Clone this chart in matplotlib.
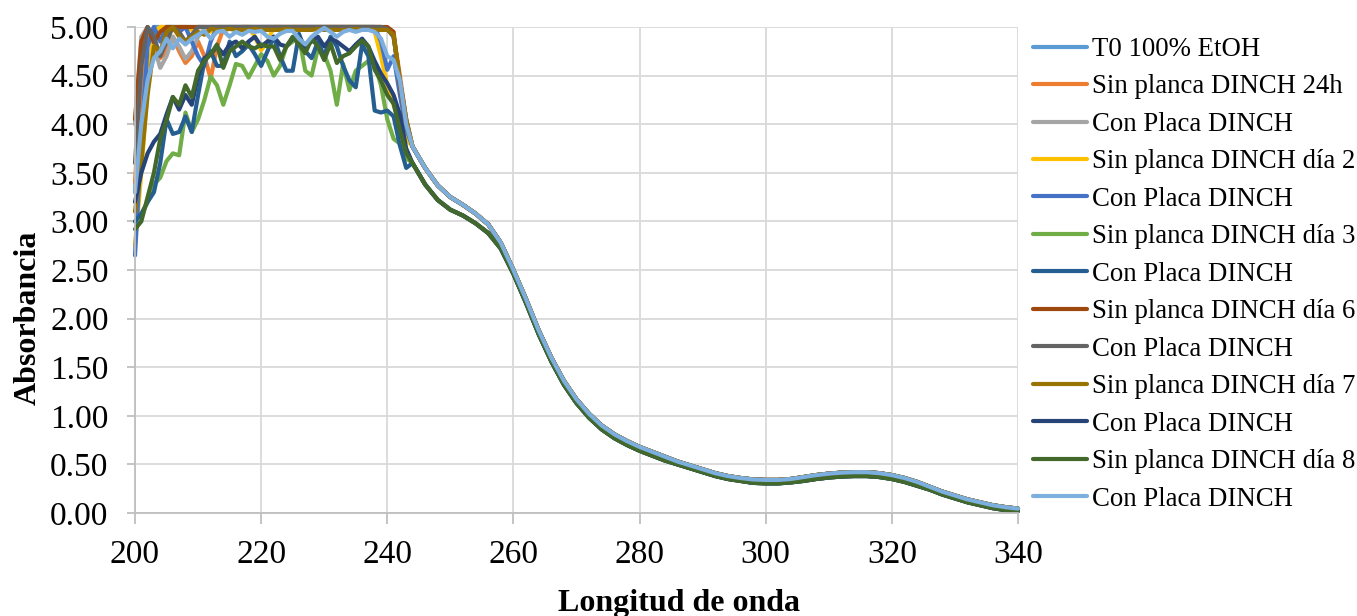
import matplotlib
matplotlib.use("Agg")
import matplotlib.pyplot as plt
from matplotlib.ticker import FormatStrFormatter

plt.rcParams['font.family'] = ['Liberation Serif', 'DejaVu Serif']

# wavelengths: 1 nm steps in the saturated region, 2 nm steps in the tail
wl_head = list(range(200, 244))
wl_tail = list(range(244, 341, 2))

# shared tail (244-340 nm), upper and lower group of curves
tail_high = [3.77, 3.55, 3.37, 3.25, 3.17, 3.08, 2.97, 2.78, 2.50, 2.20,
             1.88, 1.60, 1.36, 1.17, 1.02, 0.90, 0.81, 0.74, 0.68, 0.63,
             0.58, 0.53, 0.49, 0.45, 0.41, 0.38, 0.36, 0.345, 0.34, 0.34,
             0.35, 0.37, 0.39, 0.405, 0.415, 0.42, 0.42, 0.41, 0.39, 0.36,
             0.32, 0.27, 0.22, 0.18, 0.14, 0.11, 0.08, 0.06, 0.045]
tail_low = [3.60, 3.38, 3.22, 3.12, 3.06, 2.98, 2.88, 2.72, 2.46, 2.16,
            1.84, 1.56, 1.32, 1.13, 0.98, 0.86, 0.77, 0.70, 0.64, 0.59,
            0.54, 0.50, 0.46, 0.42, 0.38, 0.35, 0.33, 0.31, 0.305, 0.305,
            0.315, 0.33, 0.35, 0.365, 0.375, 0.38, 0.38, 0.37, 0.35, 0.32,
            0.28, 0.24, 0.19, 0.15, 0.11, 0.08, 0.05, 0.03, 0.02]

# 200-243 nm for each series
t0_head = [3.30, 4.30, 4.90, 5.00, 5.00, 5.00, 5.00, 5.00, 5.00, 5.00, 5.00,
           5.00, 5.00, 5.00, 5.00, 5.00, 5.00, 5.00, 5.00, 5.00, 5.00, 5.00,
           5.00, 5.00, 5.00, 5.00, 5.00, 5.00, 5.00, 5.00, 5.00, 5.00, 5.00,
           5.00, 5.00, 5.00, 5.00, 5.00, 5.00, 5.00, 4.99, 4.90, 4.45, 4.00]
sin24_head = [3.40, 4.50, 4.95, 4.85, 4.68, 4.75, 4.90, 4.75, 4.63, 4.70, 4.85,
              4.70, 4.47, 4.80, 4.98, 5.00, 4.97, 5.00, 5.00, 4.98, 5.00, 5.00,
              5.00, 5.00, 4.98, 5.00, 5.00, 5.00, 5.00, 5.00, 5.00, 5.00, 5.00,
              5.00, 5.00, 5.00, 5.00, 5.00, 5.00, 5.00, 4.98, 4.92, 4.50, 4.05]
con24_head = [4.00, 4.90, 5.00, 4.80, 4.58, 4.70, 4.90, 4.80, 4.67, 4.75, 4.90,
              4.97, 5.00, 5.00, 4.98, 5.00, 5.00, 5.00, 5.00, 5.00, 5.00, 5.00,
              5.00, 5.00, 5.00, 5.00, 5.00, 5.00, 5.00, 5.00, 5.00, 5.00, 5.00,
              5.00, 5.00, 5.00, 5.00, 5.00, 5.00, 5.00, 4.98, 4.90, 4.45, 4.02]
sin2_head = [2.75, 3.50, 4.40, 4.95, 5.00, 5.00, 4.97, 5.00, 5.00, 4.97, 5.00,
             5.00, 4.95, 5.00, 5.00, 5.00, 4.97, 5.00, 5.00, 4.90, 4.76, 4.85,
             5.00, 5.00, 5.00, 5.00, 5.00, 5.00, 4.97, 5.00, 5.00, 5.00, 5.00,
             5.00, 5.00, 5.00, 5.00, 5.00, 4.95, 4.70, 4.40, 4.20, 4.00, 3.85]
con2_head = [2.65, 3.80, 4.80, 5.00, 4.85, 5.00, 5.00, 4.95, 5.00, 4.85, 4.70,
             4.60, 4.85, 5.00, 5.00, 5.00, 5.00, 5.00, 5.00, 5.00, 5.00, 5.00,
             5.00, 5.00, 5.00, 5.00, 5.00, 5.00, 5.00, 5.00, 5.00, 5.00, 5.00,
             5.00, 5.00, 5.00, 5.00, 5.00, 5.00, 4.85, 4.56, 4.70, 4.30, 3.95]
sin3_head = [3.00, 3.06, 3.20, 3.38, 3.45, 3.62, 3.70, 3.68, 4.12, 3.92, 4.05,
             4.25, 4.49, 4.40, 4.20, 4.40, 4.62, 4.60, 4.48, 4.60, 4.72, 4.65,
             4.50, 4.60, 4.80, 4.85, 4.90, 4.55, 4.50, 4.78, 4.72, 4.55, 4.20,
             4.62, 4.35, 4.55, 4.60, 4.65, 4.62, 4.40, 4.05, 3.85, 3.80, 3.65]
con3_head = [3.00, 3.08, 3.20, 3.30, 3.60, 4.05, 3.90, 3.92, 4.08, 3.92, 4.30,
             4.65, 4.75, 4.60, 4.60, 4.85, 4.70, 4.75, 4.82, 4.72, 4.60, 4.75,
             4.90, 4.70, 4.55, 4.55, 4.93, 4.75, 4.68, 4.85, 4.70, 4.90, 4.80,
             4.60, 4.45, 4.38, 4.82, 4.70, 4.14, 4.12, 4.14, 4.08, 3.78, 3.55]
sin6_head = [4.05, 4.85, 5.00, 4.84, 4.95, 5.00, 5.00, 5.00, 5.00, 5.00, 5.00,
             5.00, 5.00, 5.00, 5.00, 5.00, 5.00, 5.00, 5.00, 5.00, 5.00, 5.00,
             5.00, 5.00, 5.00, 5.00, 5.00, 5.00, 5.00, 5.00, 5.00, 5.00, 5.00,
             5.00, 5.00, 5.00, 5.00, 5.00, 5.00, 5.00, 5.00, 4.95, 4.40, 4.00]
con6_head = [3.60, 4.60, 5.00, 4.90, 4.70, 4.85, 5.00, 4.95, 4.85, 4.92, 5.00,
             5.00, 5.00, 5.00, 5.00, 5.00, 5.00, 5.00, 5.00, 5.00, 5.00, 5.00,
             5.00, 5.00, 5.00, 5.00, 5.00, 5.00, 5.00, 5.00, 5.00, 5.00, 5.00,
             5.00, 5.00, 5.00, 5.00, 5.00, 5.00, 5.00, 4.98, 4.90, 4.45, 4.05]
sin7_head = [3.10, 3.60, 4.30, 4.80, 4.75, 4.95, 5.00, 4.90, 4.85, 4.90, 4.95,
             4.92, 4.98, 4.97, 4.97, 4.98, 4.97, 4.97, 4.97, 4.98, 4.97, 4.97,
             4.97, 4.97, 4.98, 4.97, 4.97, 4.97, 4.97, 4.98, 4.97, 4.97, 4.97,
             4.97, 4.97, 4.98, 4.97, 4.97, 4.97, 4.97, 4.97, 4.92, 4.45, 4.05]
con7_head = [3.20, 3.50, 3.70, 3.82, 3.90, 4.10, 4.28, 4.15, 4.30, 4.20, 4.50,
             4.68, 4.72, 4.80, 4.72, 4.82, 4.85, 4.78, 4.85, 4.90, 4.80, 4.85,
             4.90, 4.82, 4.80, 4.88, 4.90, 4.80, 4.85, 4.90, 4.80, 4.88, 4.85,
             4.80, 4.75, 4.82, 4.88, 4.80, 4.65, 4.52, 4.42, 4.30, 4.10, 3.75]
sin8_head = [2.92, 3.00, 3.25, 3.50, 3.85, 4.04, 4.28, 4.20, 4.40, 4.28, 4.55,
             4.65, 4.72, 4.82, 4.58, 4.75, 4.80, 4.85, 4.80, 4.78, 4.82, 4.80,
             4.80, 4.66, 4.80, 4.90, 4.82, 4.73, 4.88, 4.80, 4.66, 4.83, 4.63,
             4.70, 4.73, 4.80, 4.86, 4.80, 4.56, 4.45, 4.30, 4.21, 3.94, 3.70]
con8_head = [3.30, 4.00, 4.45, 4.68, 4.75, 4.88, 4.78, 4.88, 4.82, 4.88, 4.92,
             4.96, 4.88, 4.95, 4.96, 4.90, 4.95, 4.92, 4.96, 4.95, 4.96, 4.90,
             4.88, 4.93, 4.96, 4.96, 4.88, 4.82, 4.90, 4.95, 4.99, 4.95, 4.90,
             4.95, 4.97, 4.95, 4.97, 4.97, 4.95, 4.88, 4.70, 4.66, 4.45, 4.00]

labels = ["T0 100% EtOH", "Sin planca DINCH 24h", "Con Placa DINCH",
          "Sin planca DINCH día 2", "Con Placa DINCH", "Sin planca DINCH día 3",
          "Con Placa DINCH", "Sin planca DINCH día 6", "Con Placa DINCH",
          "Sin planca DINCH día 7", "Con Placa DINCH", "Sin planca DINCH día 8",
          "Con Placa DINCH"]
colors = ["#5B9BD5", "#ED7D31", "#A5A5A5", "#FFC000", "#4472C4", "#70AD47",
          "#255E91", "#9E480E", "#636363", "#997300", "#264478", "#43682B",
          "#7CAFDD"]
heads = [t0_head, sin24_head, con24_head, sin2_head, con2_head, sin3_head,
         con3_head, sin6_head, con6_head, sin7_head, con7_head, sin8_head,
         con8_head]
tails = [tail_high, tail_high, tail_high, tail_high, tail_high, tail_low,
         tail_low, tail_high, tail_high, tail_high, tail_low, tail_low,
         tail_high]

fig = plt.figure(figsize=(13.57, 6.16), dpi=100)
ax = fig.add_axes([135 / 1357, 1 - 513 / 616, (1018 - 135) / 1357, (513 - 27) / 616])

wl = wl_head + wl_tail
for lab, col, h, t in zip(labels, colors, heads, tails):
    ax.plot(wl, h + t, color=col, lw=3.0, label=lab, clip_on=False,
            solid_joinstyle='round', solid_capstyle='round')

ax.set_xlim(200, 340)
ax.set_ylim(0, 5)
ax.set_xticks(range(200, 341, 20))
ax.set_yticks([i * 0.5 for i in range(11)])
ax.yaxis.set_major_formatter(FormatStrFormatter('%.2f'))
ax.grid(True, color='#D9D9D9', lw=1.3)
ax.set_axisbelow(True)
for s in ['top', 'right']:
    ax.spines[s].set_visible(False)
for s in ['left', 'bottom']:
    ax.spines[s].set_color('#BFBFBF')
    ax.spines[s].set_linewidth(1.3)
ax.tick_params(axis='x', length=8, width=1.3, color='#BFBFBF', pad=11, labelsize=24)
ax.tick_params(axis='y', length=6, width=1.3, color='#BFBFBF', pad=13, labelsize=24)

fig.text(0.5, 0.021, "Longitud de onda", ha='center', va='center',
         fontsize=23, fontweight='bold')
fig.text(28 / 1357, 0.484, "Absorbancia", ha='center', va='center',
         rotation=90, fontsize=23, fontweight='bold')

fig.legend(loc='upper left', bbox_to_anchor=(1033 / 1357, 1 - 37 / 616),
           frameon=False, fontsize=19.3, handlelength=2.0, handletextpad=0.2,
           labelspacing=0.465, borderpad=0, borderaxespad=0)

fig.savefig("out.png", dpi=100)
